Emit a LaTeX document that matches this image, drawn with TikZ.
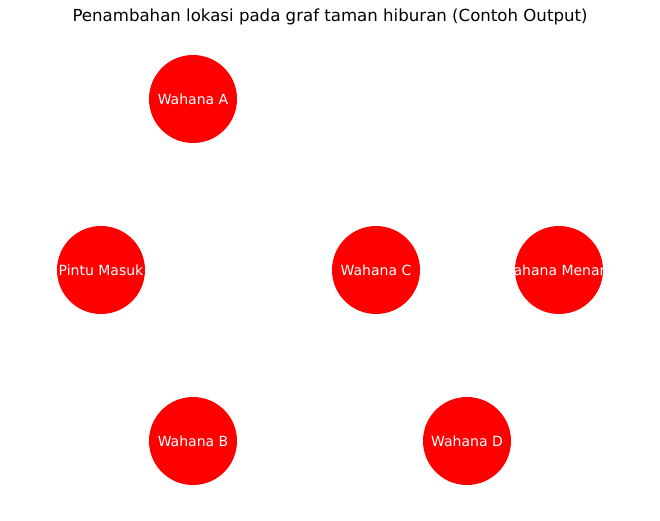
\documentclass[tikz,border=0pt]{standalone}
\usepackage{fontspec}
\setmainfont{DejaVu Sans}
\usepackage{xcolor}
\definecolor{merah}{RGB}{255,0,0}

\begin{document}
\begin{tikzpicture}[x=1pt,y=-1pt]
        \tikzset{wahana/.style={circle, fill=merah, minimum size=88pt, inner sep=0pt},
                 teks/.style={text=white, font=\fontsize{14}{16}\selectfont, inner sep=0pt}}
        \useasboundingbox (0,0) rectangle (660,520);
        \node[font=\fontsize{16.6}{19}\selectfont] (judul) at (330,17) {Penambahan lokasi pada graf taman hiburan (Contoh Output)};

        \node[wahana] (a) at (193,99) {};
        \node[wahana] (pintu) at (101,270) {};
        \node[wahana] (c) at (376,270) {};
        \node[wahana] (menarik) at (559,270) {};
        \node[wahana] (b) at (193,441) {};
        \node[wahana] (d) at (467,441) {};

        \node[teks] (ta) at (a) {Wahana A};
        \node[teks] (tpintu) at (pintu) {Pintu Masuk};
        \node[teks] (tc) at (c) {Wahana C};
        \node[teks] (tmenarik) at (menarik) {Wahana Menarik};
        \node[teks] (tb) at (b) {Wahana B};
        \node[teks] (td) at (d) {Wahana D};
    \end{tikzpicture}
\end{document}
